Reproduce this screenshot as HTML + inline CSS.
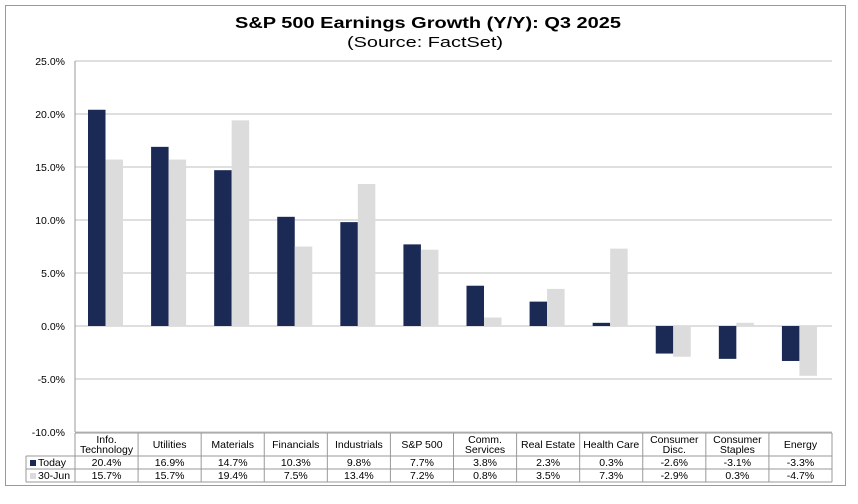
<!DOCTYPE html>
<html><head><meta charset="utf-8"><style>
body{margin:0;background:#fff;font-family:"Liberation Sans",Arial,sans-serif}
svg text{font-family:"Liberation Sans",Arial,sans-serif}
</style></head><body>
<svg id="chart" width="858" height="499" xmlns="http://www.w3.org/2000/svg">
<rect x="5.5" y="5.5" width="840" height="480" fill="#fff" stroke="#999" stroke-width="1"/>
<text x="235" y="28" textLength="386" lengthAdjust="spacingAndGlyphs" font-size="16" font-weight="bold" fill="#000">S&amp;P 500 Earnings Growth (Y/Y): Q3 2025</text>
<text x="347" y="47" textLength="156" lengthAdjust="spacingAndGlyphs" font-size="15" fill="#000">(Source: FactSet)</text>
<g id="grid"></g><g id="bars"></g><g id="table"></g>
</svg>
<script>
const categories=[["Info.","Technology"],["Utilities"],["Materials"],["Financials"],["Industrials"],["S&P 500"],["Comm.","Services"],["Real Estate"],["Health Care"],["Consumer","Disc."],["Consumer","Staples"],["Energy"]];
const todayValues=[20.4,16.9,14.7,10.3,9.8,7.7,3.8,2.3,0.3,-2.6,-3.1,-3.3];
const juneValues=[15.7,15.7,19.4,7.5,13.4,7.2,0.8,3.5,7.3,-2.9,0.3,-4.7];
const yTicks=[25,20,15,10,5,0,-5,-10];
const seriesNames=["Today","30-Jun"];
const NS="http://www.w3.org/2000/svg";
const L=75,R=832,T=61,B=432,yMin=-10,yMax=25;
const y=v=>T+(yMax-v)/(yMax-yMin)*(B-T);
const cw=(R-L)/categories.length;
const x=i=>L+i*cw;
function mk(tag,attrs,parent,txt){const e=document.createElementNS(NS,tag);for(const k in attrs)e.setAttribute(k,attrs[k]);if(txt!==undefined)e.textContent=txt;parent.appendChild(e);return e;}
const grid=document.getElementById('grid'),bars=document.getElementById('bars'),table=document.getElementById('table');
yTicks.forEach(t=>{
 const l=mk('line',{x1:L,x2:R,y1:y(t),y2:y(t),stroke:'#bfbfbf','stroke-width':1},grid);
 
 
 const tx=mk('text',{x:L-10,y:y(t)+4,'text-anchor':'end','font-size':10.5,fill:'#000'},grid,t.toFixed(1)+'%');
 
 
});
const ax=mk('line',{x1:L,x2:L,y1:T,y2:B,stroke:'#999'},grid);


const bw=17.5,off=13;
const colors=["#1b2a55","#dcdcdc"];
[todayValues,juneValues].forEach((vals,s)=>{
 vals.forEach((v,i)=>{
  const bx=x(i)+off+s*bw;
  const r=mk('rect',{x:bx,y:Math.min(y(v),y(0)),width:bw,height:Math.abs(y(v)-y(0)),fill:colors[s]},bars);
  
  
 });
});
const hT=433,r1=456,r2=469,r3=482,legL=26;
const tl=(x1,y1,x2,y2)=>{const l=mk('line',{x1,y1,x2,y2,stroke:'#999','stroke-width':1},table);};
tl(L,hT,R,hT);tl(legL,r1,R,r1);tl(legL,r2,R,r2);tl(legL,r3,R,r3);
tl(legL,r1,legL,r3);
for(let i=0;i<=categories.length;i++)tl(x(i),hT,x(i),r3);
categories.forEach((c,i)=>{
 const cx=x(i)+cw/2;
 c.forEach((ln,j)=>{
  const yy=c.length===1?hT+15:hT+10+j*10;
  const t=mk('text',{x:cx,y:yy,'text-anchor':'middle','font-size':10.5,fill:'#000'},table,ln);
  
  
 });
 [todayValues,juneValues].forEach((vals,s)=>{
  const t=mk('text',{x:cx,y:(s?r2:r1)+10,'text-anchor':'middle','font-size':10.5,fill:'#000'},table,vals[i].toFixed(1)+'%');
  
  
 });
});
seriesNames.forEach((n,s)=>{
 const yy=s?r2:r1;
 const k=mk('rect',{x:legL+4,y:yy+4,width:6,height:6,fill:colors[s]},table);
 
 
 const t=mk('text',{x:legL+12,y:yy+10,'font-size':10.5,fill:'#000'},table,n);
 
 
});
</script>
</body></html>
